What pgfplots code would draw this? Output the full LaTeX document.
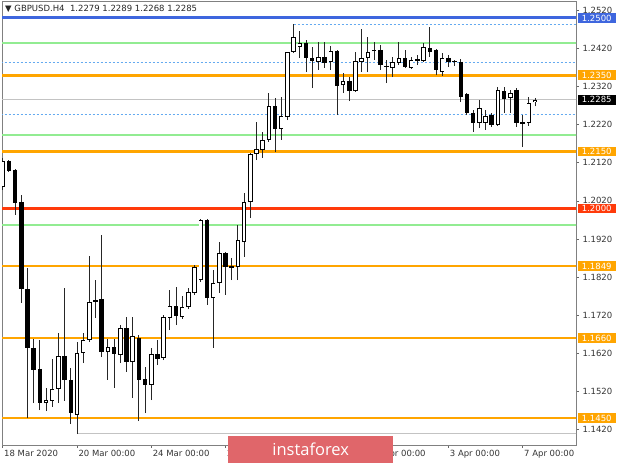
\documentclass[border=0pt]{standalone}
\usepackage{pgfplots}
\pgfplotsset{compat=1.18}
\usepackage{pgfplotstable}
\usepackage{fontspec}
\setmainfont{DejaVu Sans}
\newfontfamily\osans{Open Sans}
\definecolor{mtorange}{RGB}{255,165,0}
\definecolor{mtred}{RGB}{255,58,10}
\definecolor{mtblue}{RGB}{62,102,222}
\definecolor{mtgreen}{RGB}{146,236,146}
\definecolor{mtdot}{RGB}{100,170,240}
\definecolor{mtgray}{RGB}{195,195,195}
\definecolor{instared}{RGB}{224,102,106}

\pgfplotstableread{
i O H L C
0 1.2056 1.2133 1.2049 1.2125
1 1.2125 1.2127 1.2096 1.2098
2 1.2101 1.2104 1.1983 1.2014
3 1.2017 1.2035 1.1752 1.1789
4 1.1789 1.1844 1.1450 1.1634
5 1.1634 1.1657 1.1489 1.1576
6 1.1579 1.1655 1.1471 1.1489
7 1.1489 1.1529 1.1468 1.1497
8 1.1495 1.1605 1.1479 1.1526
9 1.1526 1.1673 1.1489 1.1613
10 1.1613 1.1791 1.1495 1.1550
11 1.1550 1.1581 1.1434 1.1463
12 1.1458 1.1650 1.1408 1.1621
13 1.1621 1.1673 1.1594 1.1655
14 1.1655 1.1875 1.1650 1.1755
15 1.1755 1.1812 1.1713 1.1760
16 1.1762 1.1930 1.1610 1.1623
17 1.1623 1.1657 1.1550 1.1636
18 1.1636 1.1657 1.1529 1.1618
19 1.1615 1.1694 1.1594 1.1686
20 1.1686 1.1715 1.1571 1.1597
21 1.1597 1.1715 1.1503 1.1665
22 1.1660 1.1668 1.1442 1.1550
23 1.1552 1.1584 1.1463 1.1537
24 1.1537 1.1634 1.1497 1.1618
25 1.1618 1.1655 1.1589 1.1605
26 1.1608 1.1720 1.1602 1.1715
27 1.1713 1.1786 1.1681 1.1744
28 1.1744 1.1794 1.1694 1.1718
29 1.1715 1.1770 1.1710 1.1741
30 1.1741 1.1791 1.1736 1.1781
31 1.1778 1.1852 1.1773 1.1846
32 1.1812 1.1972 1.1807 1.1970
33 1.1970 1.1972 1.1747 1.1765
34 1.1765 1.1839 1.1634 1.1804
35 1.1804 1.1912 1.1778 1.1883
36 1.1883 1.1886 1.1773 1.1846
37 1.1849 1.1870 1.1812 1.1844
38 1.1846 1.1957 1.1812 1.1917
39 1.1912 1.2041 1.1873 1.2017
40 1.2017 1.2146 1.1975 1.2143
41 1.2143 1.2227 1.2127 1.2156
42 1.2154 1.2201 1.2133 1.2180
43 1.2180 1.2303 1.2175 1.2269
44 1.2269 1.2290 1.2148 1.2209
45 1.2209 1.2293 1.2180 1.2243
46 1.2240 1.2411 1.2232 1.2411
47 1.2411 1.2484 1.2408 1.2450
48 1.2424 1.2466 1.2395 1.2434
49 1.2434 1.2442 1.2358 1.2395
50 1.2395 1.2424 1.2316 1.2387
51 1.2385 1.2437 1.2364 1.2398
52 1.2398 1.2437 1.2369 1.2382
53 1.2385 1.2427 1.2364 1.2413
54 1.2413 1.2416 1.2245 1.2322
55 1.2324 1.2356 1.2303 1.2334
56 1.2335 1.2345 1.2282 1.2308
57 1.2308 1.2411 1.2306 1.2387
58 1.2385 1.2471 1.2358 1.2395
59 1.2395 1.2450 1.2358 1.2411
60 1.2413 1.2437 1.2390 1.2416
61 1.2416 1.2429 1.2364 1.2377
62 1.2374 1.2390 1.2329 1.2371
63 1.2369 1.2398 1.2345 1.2385
64 1.2382 1.2437 1.2377 1.2395
65 1.2395 1.2416 1.2369 1.2371
66 1.2369 1.2398 1.2366 1.2390
67 1.2387 1.2403 1.2377 1.2392
68 1.2387 1.2434 1.2385 1.2424
69 1.2421 1.2476 1.2398 1.2411
70 1.2416 1.2419 1.2350 1.2364
71 1.2358 1.2408 1.2348 1.2395
72 1.2395 1.2403 1.2371 1.2385
73 1.2387 1.2390 1.2374 1.2384
74 1.2385 1.2392 1.2280 1.2293
75 1.2301 1.2303 1.2245 1.2251
76 1.2251 1.2258 1.2201 1.2224
77 1.2224 1.2285 1.2211 1.2264
78 1.2224 1.2258 1.2206 1.2243
79 1.2245 1.2251 1.2214 1.2219
80 1.2219 1.2319 1.2217 1.2311
81 1.2308 1.2319 1.2251 1.2287
82 1.2290 1.2311 1.2251 1.2303
83 1.2311 1.2316 1.2214 1.2224
84 1.2223 1.2245 1.2161 1.2226
85 1.2224 1.2293 1.2217 1.2277
86 1.2279 1.2289 1.2268 1.2285
}\candles

\begin{document}
\begin{tikzpicture}
\useasboundingbox (0,0) rectangle (620pt,465pt);
\begin{axis}[
  at={(2pt,20pt)}, anchor=south west,
  scale only axis, width=574pt, height=444pt,
  xmin=-0.113, xmax=92.62, ymin=1.13792, ymax=1.25446,
  clip mode=individual,
  axis line style={black!50, line width=0.8pt},
  xtick={0,12,24,36,48,60,72,84},
  xticklabels={18 Mar 2020, 20 Mar 00:00, 24 Mar 00:00, 26 Mar 00:00, 30 Mar 00:00, 1 Apr 00:00, 3 Apr 00:00, 7 Apr 00:00},
  ytick={1.142,1.152,1.162,1.172,1.182,1.192,1.202,1.212,1.222,1.232,1.242,1.252},
  xtick pos=left, ytick pos=right, yticklabel pos=right,
  tick align=outside, major tick length=3pt,
  tick style={black!60, line width=0.6pt},
  ticklabel style={font=\fontsize{8.5}{10}\selectfont, text=black!80},
  xticklabel style={anchor=north west, xshift=-2pt, yshift=1pt},
  /pgf/number format/.cd, fixed, fixed zerofill, precision=4, 1000 sep={}, assume math mode=true,
]
% level lines
\addplot[mtgray, line width=0.9pt] coordinates {(-1,1.2285) (95,1.2285)};
\addplot[mtgray, line width=1.3pt] coordinates {(12,1.1409) (95,1.1409)};
\addplot[mtgreen, line width=2.3pt] coordinates {(-1,1.2434) (95,1.2434)};
\addplot[mtgreen, line width=2.3pt] coordinates {(-1,1.2193) (95,1.2193)};
\addplot[mtgreen, line width=2.3pt] coordinates {(-1,1.1957) (95,1.1957)};
\addplot[mtdot, line width=0.8pt, dash pattern=on 2pt off 2pt] coordinates {(-1,1.2384) (95,1.2384)};
\addplot[mtdot, line width=0.8pt, dash pattern=on 2pt off 2pt] coordinates {(-1,1.2248) (95,1.2248)};
\addplot[mtdot, line width=0.8pt, dash pattern=on 2pt off 2pt] coordinates {(47,1.2483) (95,1.2483)};
\addplot[mtorange, line width=2.9pt] coordinates {(-1,1.2350) (95,1.2350)};
\addplot[mtorange, line width=2.9pt] coordinates {(-1,1.2150) (95,1.2150)};
\addplot[mtorange, line width=2.9pt] coordinates {(-1,1.1849) (95,1.1849)};
\addplot[mtorange, line width=2.9pt] coordinates {(-1,1.1660) (95,1.1660)};
\addplot[mtorange, line width=2.9pt] coordinates {(-1,1.1450) (95,1.1450)};
\addplot[mtred, line width=3pt] coordinates {(-1,1.2000) (95,1.2000)};
\addplot[mtblue, line width=3pt] coordinates {(-1,1.2500) (95,1.2500)};
% candles
\addplot[black!85, line width=0.9pt, quiver={u=0, v={\thisrow{H}-\thisrow{L}}}] table[x=i, y=L] {\candles};
\addplot[black, line width=4.5pt, quiver={u=0, v={\thisrow{C}-\thisrow{O}}}] table[x=i, y=O] {\candles};
\addplot[white, line width=2.7pt, quiver={u=0, v={max(\thisrow{C}-\thisrow{O}-0.0005,0)}}] table[x=i, y expr=\thisrow{O}+0.00025] {\candles};
% title
\node[anchor=west, font=\fontsize{8.5}{10}\selectfont, text=black!85, fill=white, inner sep=1pt] at (rel axis cs:0,1) [xshift=2pt, yshift=-8pt] {▼ GBPUSD.H4\ \ 1.2279 1.2289 1.2268 1.2285};
% price tags
\begin{scope}[every node/.style={anchor=west, text=white, minimum width=38pt, minimum height=9.5pt, inner sep=0.5pt, font=\fontsize{8.5}{10}\selectfont, xshift=1.5pt}]
\node[fill=mtblue] at (axis cs:92.62,1.2500) {1.2500};
\node[fill=mtorange] at (axis cs:92.62,1.2350) {1.2350};
\node[fill=black] at (axis cs:92.62,1.2285) {1.2285};
\node[fill=mtorange] at (axis cs:92.62,1.2150) {1.2150};
\node[fill=mtred] at (axis cs:92.62,1.2000) {1.2000};
\node[fill=mtorange] at (axis cs:92.62,1.1849) {1.1849};
\node[fill=mtorange] at (axis cs:92.62,1.1660) {1.1660};
\node[fill=mtorange] at (axis cs:92.62,1.1450) {1.1450};
\end{scope}
% watermark
\node[fill=instared, text=white, anchor=south west, minimum width=165pt, minimum height=27pt, inner sep=0pt, font=\osans\fontsize{16.5}{18}\selectfont] at (rel axis cs:0,0) [xshift=226pt, yshift=-18pt] {instaforex};
\end{axis}
\end{tikzpicture}
\end{document}
